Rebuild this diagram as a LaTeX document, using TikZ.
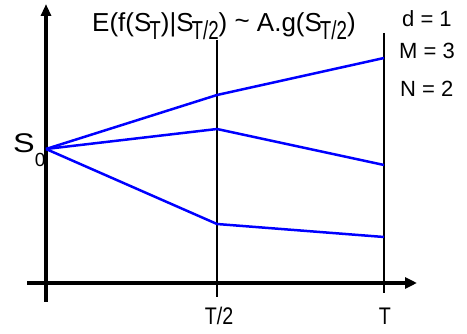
\documentclass[tikz,border=0pt]{standalone}
\usepackage{fontspec}
\setmainfont{Liberation Sans}
\newfontfamily\narrowfont[FakeStretch=0.72]{Liberation Sans}
\newfontfamily\labfont[FakeStretch=0.82]{Liberation Sans}
\newfontfamily\widefont[FakeStretch=1.2]{Liberation Sans}
\usetikzlibrary{arrows.meta}
\newcommand{\mysub}[1]{\kern-2pt\raisebox{-8pt}{\narrowfont #1}}
\begin{document}
\begin{tikzpicture}[x=1pt,y=-1pt,
  axis/.style={line width=4pt,-{Triangle[length=12pt,width=11pt]}},
  vaxis/.style={line width=3.5pt,-{Triangle[length=12pt,width=10pt]}},
  timeline/.style={line width=2pt},
  path/.style={blue,line width=2.5pt,line join=round},
  txt/.style={inner sep=0pt,anchor=base west,font=\fontsize{22}{26}\selectfont},
  lab/.style={inner sep=0pt,anchor=base,font=\fontsize{24}{28}\selectfont\labfont}]
\useasboundingbox (0,0) rectangle (467,334);
% coordinates
\coordinate (vb) at (46,302);
\coordinate (vt) at (46,4);
\coordinate (hl) at (27,283);
\coordinate (hr) at (417,283);
\coordinate (m1) at (217,40);
\coordinate (m2) at (217,297);
\coordinate (e1) at (384,33);
\coordinate (e2) at (384,293);
\coordinate (s0) at (46,149);
\coordinate (a1) at (217,95);
\coordinate (b1) at (384,58);
\coordinate (a2) at (217,129);
\coordinate (b2) at (384,165);
\coordinate (a3) at (217,224);
\coordinate (b3) at (384,237);
% axes
\draw[vaxis] (vb) -- (vt);
\draw[axis] (hl) -- (hr);
\draw[timeline] (m1) -- (m2);
\draw[timeline] (e1) -- (e2);
% paths
\draw[path] (s0) -- (a1) -- (b1);
\draw[path] (s0) -- (a2) -- (b2);
\draw[path] (s0) -- (a3) -- (b3);
% labels
\node[lab] (lt2) at (219,325) {T/2};
\node[lab] (lt) at (385,325) {T};
\node[inner sep=0pt,anchor=base west,font=\fontsize{27}{30}\selectfont] (ls0) at (13,153) {{\widefont S}\raisebox{-14pt}{\fontsize{19}{22}\selectfont 0}};
\node[inner sep=0pt,anchor=base west,font=\fontsize{26}{30}\selectfont] (title) at (92,32)
  {E(f(S\mysub{T})|S\mysub{T/2}) \raisebox{2pt}{\char`\~} A.g(S\mysub{T/2})};
\node[txt] (ld) at (402,27) {d = 1};
\node[txt] (lm) at (399,59) {M = 3};
\node[txt] (ln) at (400,97) {N = 2};
\end{tikzpicture}
\end{document}
